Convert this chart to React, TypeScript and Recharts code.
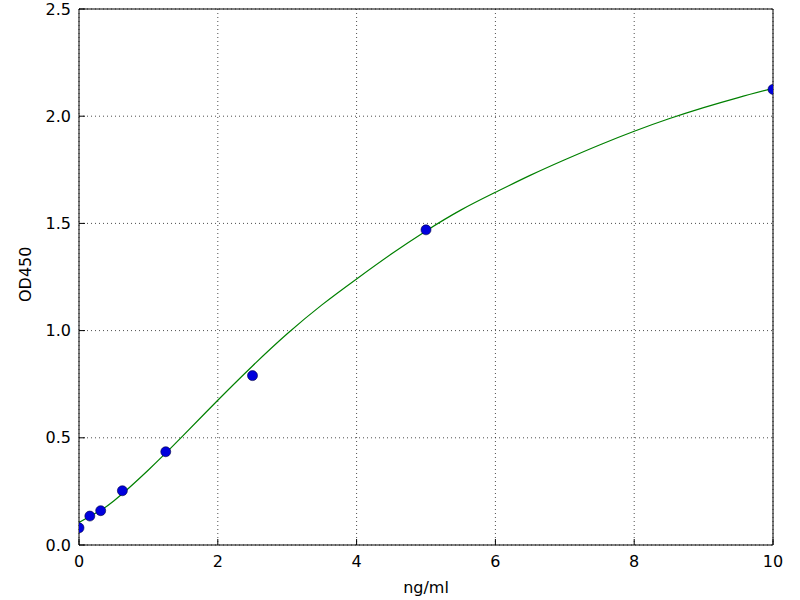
import {
  CartesianGrid,
  ComposedChart,
  Line,
  Scatter,
  XAxis,
  YAxis,
} from 'recharts'

// measured standards
const concentrations = [0, 0.156, 0.3125, 0.625, 1.25, 2.5, 5, 10]
const odValues = [0.08, 0.135, 0.16, 0.253, 0.435, 0.79, 1.47, 2.125]

// fitted curve
const curveX = [0, 0.25, 0.5, 1, 1.5, 2, 2.5, 3, 3.5, 4, 4.5, 5, 5.5, 6, 6.5, 7, 7.5, 8, 8.5, 9, 9.5, 10]
const curveY = [0.105, 0.15, 0.205, 0.35, 0.51, 0.675, 0.835, 0.985, 1.12, 1.241, 1.357, 1.465, 1.562, 1.645, 1.724, 1.797, 1.866, 1.93, 1.988, 2.04, 2.087, 2.13]

const xTicks = [0, 2, 4, 6, 8, 10]
const yTicks = [0, 0.5, 1.0, 1.5, 2.0, 2.5]

const points = concentrations.map((x, i) => ({ x, y: odValues[i] }))
const curve = curveX.map((x, i) => ({ x, y: curveY[i] }))

const font = { fontFamily: 'DejaVu Sans', fontSize: 16, fill: '#000' }

export default function App() {
  return (
    <div style={{ position: 'absolute', left: 0, top: 0, background: '#fff' }}>
      <ComposedChart
        width={800}
        height={600}
        margin={{ top: 8, right: 26, bottom: 15, left: 19 }}
      >
        <CartesianGrid
          stroke="#000"
          strokeDasharray="1 3"
          strokeWidth={0.7}
          horizontalValues={yTicks}
          verticalValues={xTicks}
        />
        <XAxis
          type="number"
          dataKey="x"
          domain={[0, 10]}
          ticks={xTicks}
          allowDataOverflow
          height={40}
          stroke="#000"
          tickSize={-6}
          tickMargin={17}
          tick={font}
          label={{ value: 'ng/ml', position: 'insideBottom', offset: -8, ...font }}
        />
        <XAxis
          xAxisId="top"
          orientation="top"
          type="number"
          dataKey="x"
          domain={[0, 10]}
          ticks={xTicks}
          height={1}
          stroke="#000"
          tickSize={-6}
          tick={false}
        />
        <YAxis
          type="number"
          domain={[0, 2.5]}
          ticks={yTicks}
          allowDataOverflow
          width={60}
          stroke="#000"
          tickSize={-6}
          tickMargin={14}
          tick={font}
          tickFormatter={(v: number) => v.toFixed(1)}
          label={{ value: 'OD450', angle: -90, position: 'insideLeft', offset: 0, dy: 25, dx: 6, ...font }}
        />
        <YAxis
          yAxisId="right"
          orientation="right"
          type="number"
          domain={[0, 2.5]}
          ticks={yTicks}
          width={1}
          stroke="#000"
          tickSize={-6}
          tick={false}
        />
        <Line
          xAxisId="top"
          yAxisId="right"
          data={curve}
          dataKey="y"
          stroke="none"
          dot={false}
          activeDot={false}
          legendType="none"
          isAnimationActive={false}
        />
        <Line
          data={curve}
          dataKey="y"
          type="natural"
          stroke="#008000"
          strokeWidth={1.2}
          dot={false}
          activeDot={false}
          isAnimationActive={false}
        />
        <Scatter
          data={points}
          dataKey="y"
          fill="#0000dd"
          shape={(p: any) => (
            <circle cx={p.cx} cy={p.cy} r={5} fill="#0000dd" stroke="#000040" strokeWidth={0.6} />
          )}
          isAnimationActive={false}
        />
      </ComposedChart>
    </div>
  )
}
